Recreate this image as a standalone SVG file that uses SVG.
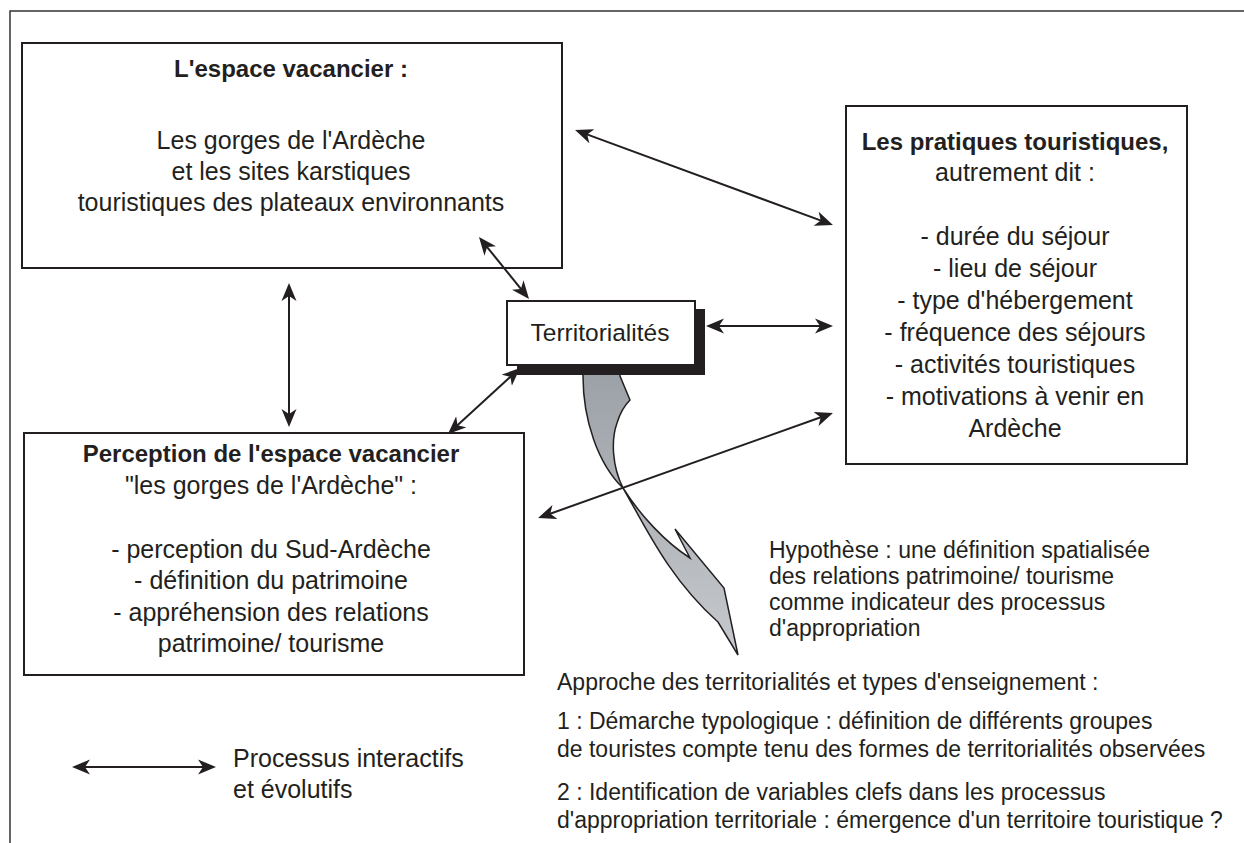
<svg xmlns="http://www.w3.org/2000/svg" width="1244" height="843" viewBox="0 0 1244 843">
<style>
.box{fill:#fff;stroke:#231f20;stroke-width:2}
.t{font-family:"Liberation Sans",Arial,sans-serif;font-size:25px;fill:#231f20;text-anchor:middle}
.b{font-weight:bold;font-size:24px}
.s{font-family:"Liberation Sans",Arial,sans-serif;font-size:23px;fill:#231f20}
.c{stroke:#231f20;stroke-width:2;fill:none;marker-start:url(#ah);marker-end:url(#ah)}
</style>
<defs>
<marker id="ah" markerUnits="userSpaceOnUse" markerWidth="18" markerHeight="16" viewBox="0 0 18 16" refX="14" refY="8" orient="auto-start-reverse">
<path d="M18,8 L0,0.5 L5,8 L0,15.5 Z" fill="#231f20"/>
</marker>
<linearGradient id="g" x1="0" y1="0" x2="0" y2="1">
<stop offset="0" stop-color="#9ca1a7"/>
<stop offset="1" stop-color="#c6c9cd"/>
</linearGradient>
</defs>
<rect width="1244" height="843" fill="#fff"/>
<g id="frame" stroke="#333" stroke-width="1.5" fill="none">
<path d="M10,843 L10,11 L1244,11"/>
</g>
<g id="curved-arrow">
<path d="M583,370 L583,376 C583,420 598,464 623,488 C643,522 668,578 718,622 L738,655 L724,588 L675,529 L690,558 C665,542 640,515 623,488 C612,466 611,440 617,423 C620,413 625,405 630,400 L620,376 L620,370 Z" fill="url(#g)" stroke="#231f20" stroke-width="1.5" stroke-linejoin="miter"/>
</g>
<g id="espace-vacancier">
<rect class="box" x="22" y="43" width="540" height="225"/>
<text class="t b" x="291" y="77">L'espace vacancier :</text>
<text class="t" x="291" y="149">Les gorges de l'Ardèche</text>
<text class="t" x="291" y="180">et les sites karstiques</text>
<text class="t" x="291" y="211">touristiques des plateaux environnants</text>
</g>
<g id="pratiques">
<rect class="box" x="846" y="106" width="341" height="358"/>
<text class="t b" x="1015" y="150">Les pratiques touristiques,</text>
<text class="t" x="1015" y="181">autrement dit :</text>
<text class="t" x="1015" y="245">- durée du séjour</text>
<text class="t" x="1015" y="277">- lieu de séjour</text>
<text class="t" x="1015" y="309">- type d'hébergement</text>
<text class="t" x="1015" y="341">- fréquence des séjours</text>
<text class="t" x="1015" y="373">- activités touristiques</text>
<text class="t" x="1015" y="405">- motivations à venir en</text>
<text class="t" x="1015" y="437">Ardèche</text>
</g>
<g id="territorialites">
<rect x="517" y="309" width="188" height="66" fill="#231f20"/>
<rect class="box" x="507" y="301" width="188" height="64"/>
<text class="t" x="600" y="341" style="font-size:24.5px">Territorialités</text>
</g>
<g id="perception">
<rect class="box" x="24" y="433" width="500" height="242"/>
<text class="t b" x="271" y="462">Perception de l'espace vacancier</text>
<text class="t" x="271" y="494">"les gorges de l'Ardèche" :</text>
<text class="t" x="271" y="558">- perception du Sud-Ardèche</text>
<text class="t" x="271" y="589">- définition du patrimoine</text>
<text class="t" x="271" y="621">- appréhension des relations</text>
<text class="t" x="271" y="652">patrimoine/ tourisme</text>
</g>
<g id="connectors">
<line class="c" x1="578.8" y1="131.4" x2="829.2" y2="223.6"/>
<line class="c" x1="481.5" y1="240.1" x2="526.5" y2="295.9"/>
<line class="c" x1="710" y1="326" x2="829" y2="326"/>
<line class="c" x1="517.1" y1="370.7" x2="450.9" y2="431.3"/>
<line class="c" x1="829.2" y1="414.3" x2="541.8" y2="516.7"/>
<line class="c" x1="289" y1="287" x2="289" y2="423"/>
</g>
<g id="hypothese">
<text class="s" x="769" y="558">Hypothèse : une définition spatialisée</text>
<text class="s" x="769" y="584">des relations patrimoine/ tourisme</text>
<text class="s" x="769" y="610">comme indicateur des processus</text>
<text class="s" x="769" y="636">d'appropriation</text>
</g>
<g id="approche">
<text class="s" x="557" y="690">Approche des territorialités et types d'enseignement :</text>
<text class="s" x="557" y="729">1 : Démarche typologique : définition de différents groupes</text>
<text class="s" x="557" y="757">de touristes compte tenu des formes de territorialités observées</text>
<text class="s" x="557" y="800">2 : Identification de variables clefs dans les processus</text>
<text class="s" x="557" y="828">d'appropriation territoriale : émergence d'un territoire touristique ?</text>
</g>
<g id="legend">
<line class="c" x1="76" y1="767" x2="212" y2="767"/>
<text class="t" x="233" y="767" style="text-anchor:start">Processus interactifs</text>
<text class="t" x="233" y="798" style="text-anchor:start">et évolutifs</text>
</g>
</svg>
